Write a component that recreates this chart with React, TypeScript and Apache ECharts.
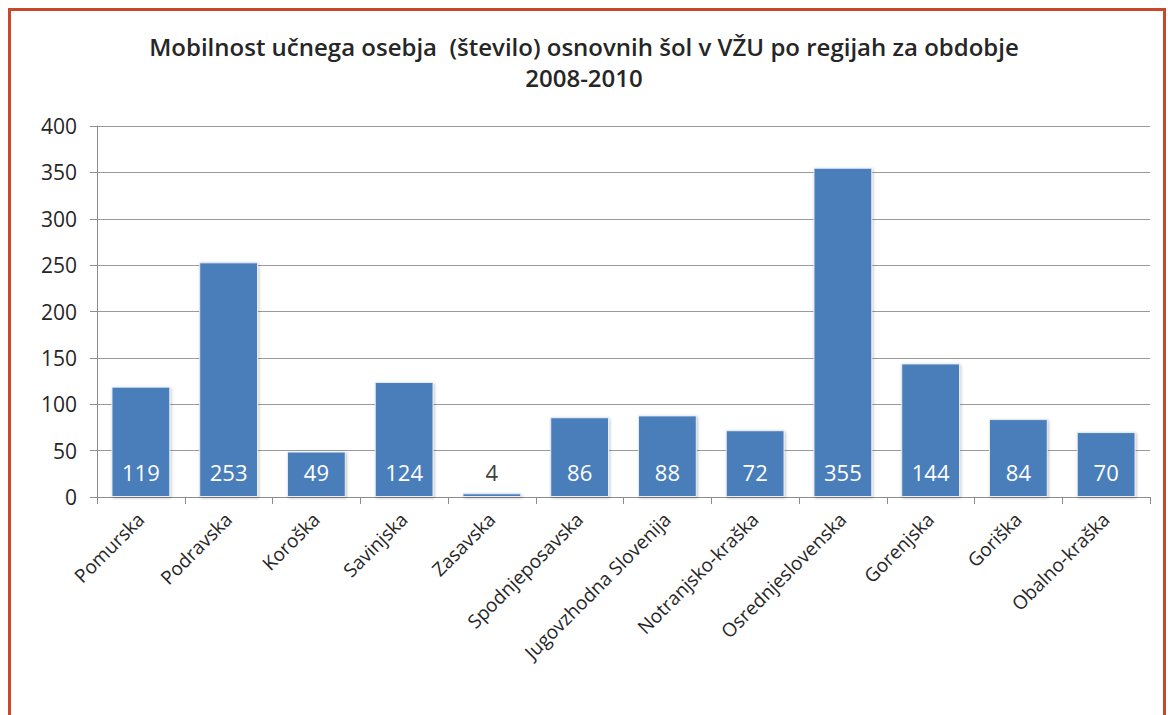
import React, { useEffect, useRef } from "react";
import * as echarts from "echarts";

const titleText = "Mobilnost učnega osebja  (število) osnovnih šol v VŽU po regijah za obdobje\n2008-2010";
const categories = [
  "Pomurska",
  "Podravska",
  "Koroška",
  "Savinjska",
  "Zasavska",
  "Spodnjeposavska",
  "Jugovzhodna Slovenija",
  "Notranjsko-kraška",
  "Osrednjeslovenska",
  "Gorenjska",
  "Goriška",
  "Obalno-kraška",
];
const values = [119, 253, 49, 124, 4, 86, 88, 72, 355, 144, 84, 70];
const yMin = 0;
const yMax = 400;
const yInterval = 50;

const FONT = "'Open Sans', Lato, sans-serif";

export default function App() {
  const ref = useRef<HTMLDivElement>(null);
  useEffect(() => {
    if (!ref.current) return;
    const chart = echarts.init(ref.current, null, { renderer: "svg" });
    const data = values.map((v) => ({
      value: v,
      label: {
        color: v < 20 ? "#404040" : "#ffffff",
      },
    }));
    chart.setOption({
      animation: false,
      backgroundColor: "#ffffff",
      title: {
        text: titleText,
        left: "center",
        top: 26,
        textStyle: {
          fontFamily: FONT,
          fontSize: 24,
          fontWeight: 600,
          color: "#262626",
          lineHeight: 31,
        },
      },
      graphic: [
        {
          type: "rect",
          shape: { x: 9.5, y: 9.5, width: 1155, height: 720 },
          style: { fill: "none", stroke: "#c9472a", lineWidth: 3 },
          silent: true,
        },
      ],
      grid: { left: 97, right: 18, top: 126, bottom: 218, containLabel: false },
      xAxis: {
        type: "category",
        data: categories,
        axisLine: { show: true, lineStyle: { color: "#8c8c8c", width: 1 } },
        axisTick: { show: true, length: 7, lineStyle: { color: "#8c8c8c" } },
        axisLabel: {
          rotate: 45,
          interval: 0,
          fontFamily: FONT,
          fontSize: 19,
          color: "#262626",
          margin: 19,
        },
      },
      yAxis: {
        type: "value",
        min: yMin,
        max: yMax,
        interval: yInterval,
        axisLine: { show: true, lineStyle: { color: "#8c8c8c", width: 1 } },
        axisTick: { show: true, length: 7, lineStyle: { color: "#8c8c8c" } },
        axisLabel: {
          fontFamily: FONT,
          fontSize: 21,
          color: "#262626",
          margin: 20,
        },
        splitLine: { show: true, lineStyle: { color: "#9a9a9a", width: 1 } },
      },
      series: [
        {
          type: "bar",
          data,
          barCategoryGap: "33%",
          itemStyle: {
            color: "#4a7ebb",
            borderColor: "#e6edf6",
            borderWidth: 1,
            shadowColor: "rgba(0,0,0,0.25)",
            shadowBlur: 3,
            shadowOffsetX: 1,
            shadowOffsetY: 1,
          },
          label: {
            show: true,
            position: "insideBottom",
            distance: 14,
            fontFamily: FONT,
            fontSize: 22,
            color: "#ffffff",
          },
        },
      ],
    });
    return () => chart.dispose();
  }, []);
  return (
    <div
      ref={ref}
      style={{ position: "absolute", left: 0, top: 0, width: 1168, height: 715 }}
    />
  );
}
